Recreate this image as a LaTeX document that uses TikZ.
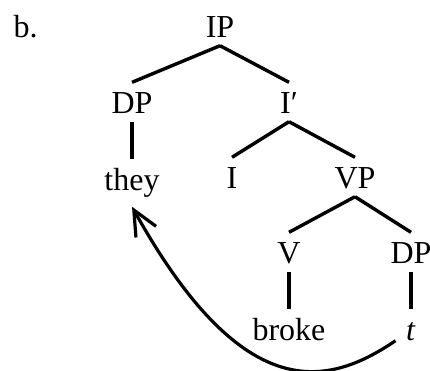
\documentclass[tikz,border=0pt]{standalone}
\usepackage{fontspec}
\setmainfont{Liberation Serif}
\usetikzlibrary{arrows.meta}

\begin{document}
\begin{tikzpicture}[x=1pt,y=-1pt,line width=3.4pt,node distance=77pt,
  every node/.style={font=\fontsize{32}{38}\selectfont,anchor=base,text height=22pt,text depth=0pt,inner xsep=3pt,inner ysep=7pt},
  >={Straight Barb[length=25pt,width=23pt]}]
\useasboundingbox(0,0)rectangle(430,370);
\node[anchor=base west](lbl) at (9,37){b.};
\node(ip) at (220,37){IP};
\node(dp) at (132,113){DP};
\node(ibar) at (289,113){I′};
\node(they)[below of=dp]{they};
\node(infl) at (232,188){I};
\node(vp) at (355,188){VP};
\node(v) at (289,263){V};
\node(dpobj) at (411,263){DP};
\node(broke)[below of=v]{broke};
\node(trace)[below of=dpobj]{\textit{t}};

\draw(ip.south)--(dp.north);
\draw(ip.south)--(ibar.north);
\draw(dp.south)--(they.north);
\draw(ibar.south)--(infl.north);
\draw(ibar.south)--(vp.north);
\draw(vp.south)--(v.north);
\draw(vp.south)--(dpobj.north);
\draw(v.south)--(broke.north);
\draw(dpobj.south)--(trace.north);
\draw[->,line width=3.2pt]([shift={(-6pt,8pt)}]trace.south west)..controls(330,385)and(245,410)..([yshift=-8pt]they.south);
\end{tikzpicture}
\end{document}
